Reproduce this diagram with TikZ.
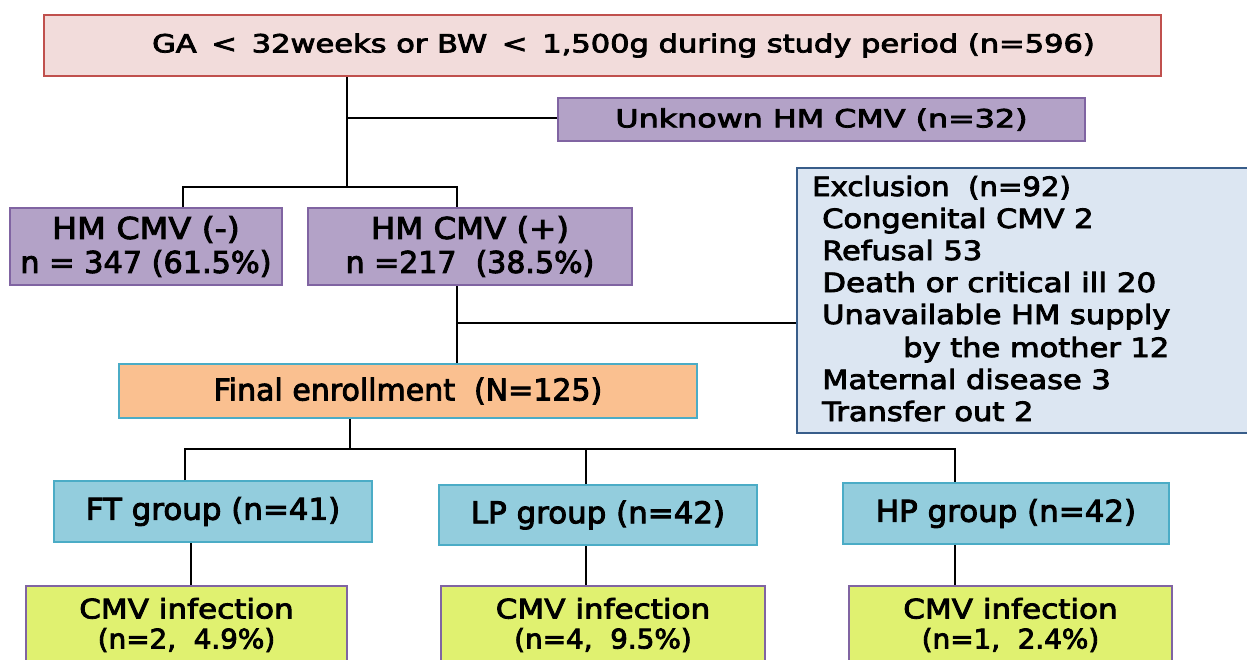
\documentclass[tikz,border=0pt]{standalone}
\usepackage{graphicx}
\usepackage{fontspec}
\setmainfont{DejaVu Sans}[FakeBold=3]
\definecolor{pinkfill}{HTML}{F2DCDB}
\definecolor{pinkline}{HTML}{C0504D}
\definecolor{purfill}{HTML}{B3A2C7}
\definecolor{purline}{HTML}{8064A2}
\definecolor{exfill}{HTML}{DCE6F2}
\definecolor{exline}{HTML}{385D8A}
\definecolor{orfill}{HTML}{FAC090}
\definecolor{tealline}{HTML}{4BACC6}
\definecolor{bluefill}{HTML}{93CDDD}
\definecolor{yelfill}{HTML}{E0F170}
\newcommand{\sx}[2]{\scalebox{#1}[1]{#2}}
\tikzset{
  box/.style={draw, line width=2pt, inner sep=0pt, align=center},
  conn/.style={line width=2.4pt, black},
  extxt/.style={anchor=base west, inner sep=0pt, font=\fontsize{26.5}{30}\selectfont},
}
\begin{document}
\begin{tikzpicture}[x=1pt,y=-1pt]
\useasboundingbox (0,0) rectangle (1247,659);
\clip (0,0) rectangle (1247,659);
\fill[white] (0,0) rectangle (1247,659);
% boxes
\node[box, fill=pinkfill, draw=pinkline, minimum width=1117pt, minimum height=61pt, font=\fontsize{25}{30}\selectfont] (top) at (602.5,45.5)
  {\hspace*{42pt}\sx{1.22}{GA \,<\, 32weeks or BW \,<\, 1,500g during study period (n=596)}};
\node[box, fill=purfill, draw=purline, minimum width=527pt, minimum height=43pt, font=\fontsize{25}{30}\selectfont] (unk) at (821.5,119.5)
  {\sx{1.27}{Unknown HM CMV (n=32)}};
\node[box, fill=purfill, draw=purline, minimum width=272pt, minimum height=77pt, font=\fontsize{30}{34}\selectfont] (neg) at (146,246.5)
  {\sx{1.11}{HM CMV (-)}\\\sx{1.01}{n = 347 (61.5\%)}};
\node[box, fill=purfill, draw=purline, minimum width=324pt, minimum height=77pt, font=\fontsize{30}{34}\selectfont] (pos) at (470,246.5)
  {\sx{1.08}{HM CMV (+)}\\\sx{1.0}{n =217 \ (38.5\%)}};
\node[box, fill=exfill, draw=exline, minimum width=463pt, minimum height=265pt] (excl) at (1028.5,300.5) {};
\node[extxt] (e1) at (812,196) {\sx{1.1}{Exclusion \ (n=92)}};
\node[extxt] (e2) at (822,228) {\sx{1.15}{Congenital CMV 2}};
\node[extxt] (e3) at (822,260) {\sx{1.15}{Refusal 53}};
\node[extxt] (e4) at (822,292) {\sx{1.17}{Death or critical ill 20}};
\node[extxt] (e5) at (822,324) {\sx{1.15}{Unavailable HM supply}};
\node[extxt] (e6) at (903,357) {\sx{1.15}{by the mother 12}};
\node[extxt] (e7) at (822,389) {\sx{1.15}{Maternal disease 3}};
\node[extxt] (e8) at (822,421) {\sx{1.15}{Transfer out 2}};
\node[box, fill=orfill, draw=tealline, minimum width=578pt, minimum height=54pt, font=\fontsize{30}{34}\selectfont] (final) at (408,391)
  {\sx{1.0}{Final enrollment \ (N=125)}};
\node[box, fill=bluefill, draw=tealline, minimum width=318pt, minimum height=61pt, font=\fontsize{30}{34}\selectfont] (ft) at (213,511.5)
  {\sx{1.03}{FT group (n=41)}};
\node[box, fill=bluefill, draw=tealline, minimum width=318pt, minimum height=60pt, font=\fontsize{30}{34}\selectfont] (lp) at (598,515)
  {\sx{1.03}{LP group (n=42)}};
\node[box, fill=bluefill, draw=tealline, minimum width=326pt, minimum height=61pt, font=\fontsize{30}{34}\selectfont] (hp) at (1006,513.5)
  {\sx{1.03}{HP group (n=42)}};
\node[box, fill=yelfill, draw=purline, minimum width=321pt, minimum height=78pt, font=\fontsize{27}{30}\selectfont] (c1) at (186.5,625)
  {\sx{1.15}{CMV infection}\\\sx{1.03}{(n=2, \ 4.9\%)}};
\node[box, fill=yelfill, draw=purline, minimum width=324pt, minimum height=78pt, font=\fontsize{27}{30}\selectfont] (c2) at (603,625)
  {\sx{1.15}{CMV infection}\\\sx{1.03}{(n=4, \ 9.5\%)}};
\node[box, fill=yelfill, draw=purline, minimum width=323pt, minimum height=78pt, font=\fontsize{27}{30}\selectfont] (c3) at (1010.5,625)
  {\sx{1.15}{CMV infection}\\\sx{1.03}{(n=1, \ 2.4\%)}};
% junctions
\coordinate (j1) at (347,187);
\coordinate (j2) at (347,118);
\coordinate (j3) at (457,323);
\coordinate (j4) at (350,449);
% connectors
\draw[conn] (top.south -| j1) -- (j1);
\draw[conn] (j2) -- (unk.west |- j2);
\draw[conn] ([xshift=37pt]neg.north) |- (j1) -| ([xshift=-13pt]pos.north);
\draw[conn] ([xshift=-13pt]pos.south) -- ([xshift=-13pt]pos.south |- final.north);
\draw[conn] (j3) -- (excl.west |- j3);
\draw[conn] (final.south -| j4) -- (j4);
\draw[conn] ([xshift=-28pt]ft.north) |- (j4) -| ([xshift=-51pt]hp.north);
\draw[conn] ([xshift=-12pt]lp.north) -- ([xshift=-12pt]lp.north |- j4);
\draw[conn] ([xshift=-22pt]ft.south) -- ([xshift=-22pt]ft.south |- c1.north);
\draw[conn] ([xshift=-12pt]lp.south) -- ([xshift=-12pt]lp.south |- c2.north);
\draw[conn] ([xshift=-51pt]hp.south) -- ([xshift=-51pt]hp.south |- c3.north);
\end{tikzpicture}
\end{document}
